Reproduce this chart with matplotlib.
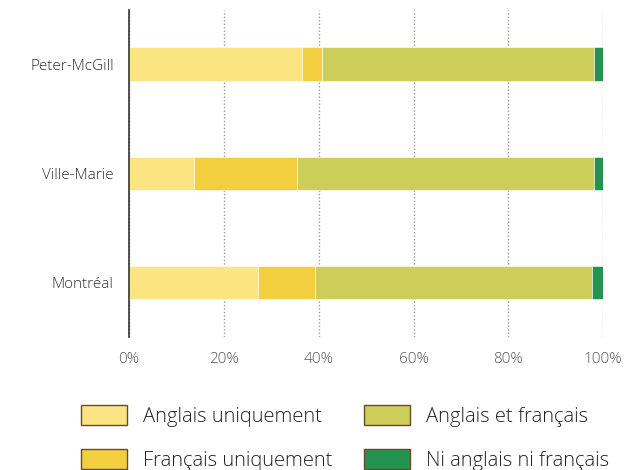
import matplotlib
matplotlib.use("Agg")
import matplotlib.pyplot as plt
import matplotlib.patches as mpatches
import numpy as np

plt.rcParams["font.family"] = ["Open Sans", "DejaVu Sans"]

# Share of population by language knowledge (%)
districts = ["Montréal", "Ville-Marie", "Peter-McGill"]
anglais_seul = [27.2, 13.7, 36.4]
francais_seul = [12.0, 21.7, 4.4]
anglais_francais = [58.4, 62.6, 57.3]
ni_l_un_ni_l_autre = [2.4, 2.0, 1.9]

series = [anglais_seul, francais_seul, anglais_francais, ni_l_un_ni_l_autre]
labels = ["Anglais uniquement", "Français uniquement",
          "Anglais et français", "Ni anglais ni français"]
colors = ["#FBE482", "#F3CF40", "#CDCE5A", "#259350"]

xticks = [0, 20, 40, 60, 80, 100]
xticklabels = ["0%", "20%", "40%", "60%", "80%", "100%"]

fig = plt.figure(figsize=(6.35, 4.7), dpi=100)
ax = fig.add_axes([0.203, 0.283, 0.747, 0.696])

y = np.arange(len(districts))
left = np.zeros(len(districts))
for vals, col in zip(series, colors):
    ax.barh(y, vals, height=0.31, left=left, color=col,
            edgecolor="white", linewidth=0.4, zorder=2)
    left += np.array(vals)

ax.set_ylim(-0.5, 2.5)
ax.set_xlim(0, 100)
ax.set_yticks(y)
ax.set_yticklabels(districts, fontsize=11, color="#333333", fontweight="light")
ax.set_xticks(xticks)
ax.set_xticklabels(xticklabels, fontsize=11, color="#555555", fontweight="light")
ax.tick_params(axis="y", length=0, pad=11)
ax.tick_params(axis="x", length=0, pad=11)

ax.xaxis.grid(True, color="#999999", linestyle=(0, (1, 1.5)), linewidth=1, zorder=0)
ax.set_axisbelow(True)
for s in ["top", "right", "bottom"]:
    ax.spines[s].set_visible(False)
ax.spines["left"].set_color("#333333")
ax.spines["left"].set_linewidth(1.2)

handles = [mpatches.Patch(facecolor=c, edgecolor="#6B4A2A", linewidth=1, label=l)
           for c, l in zip(colors, labels)]
leg = fig.legend(handles=handles, ncol=2, loc="upper left",
                 bbox_to_anchor=(0.128, 0.138), bbox_transform=fig.transFigure,
                 frameon=False, handlelength=2.28, handleheight=1.14,
                 handletextpad=0.8, columnspacing=1.55, labelspacing=1.12,
                 borderaxespad=0, borderpad=0,
                 prop={"size": 14.5, "weight": "light"})
for t in leg.get_texts():
    t.set_color("#222222")

plt.savefig("out.png", dpi=100, facecolor="white")
